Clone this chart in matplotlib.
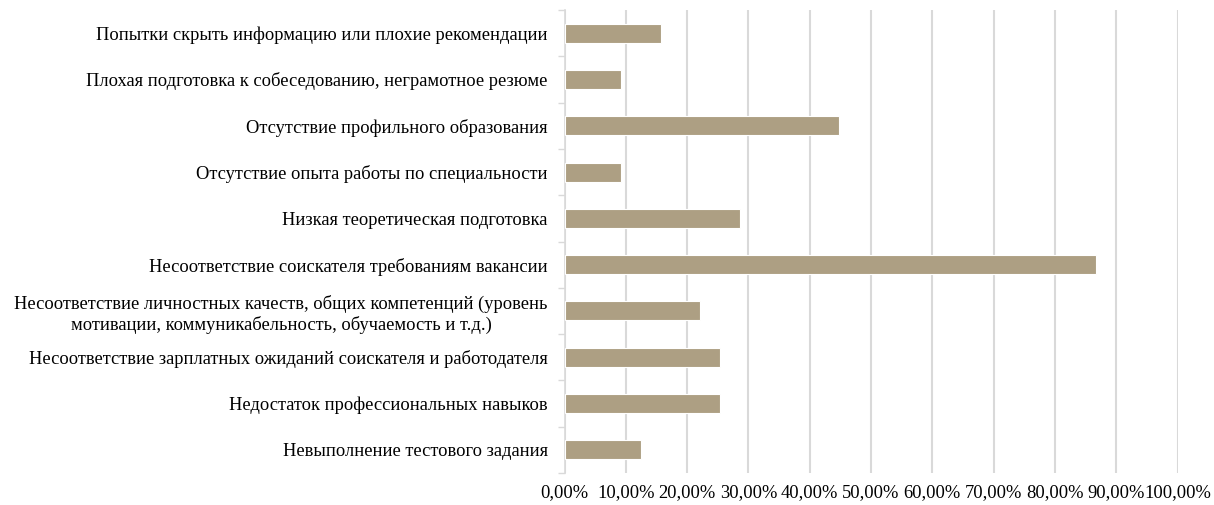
import matplotlib
matplotlib.use("Agg")
import matplotlib.pyplot as plt
from matplotlib.ticker import FuncFormatter, FixedLocator
import numpy as np

categories = [
    "Невыполнение тестового задания",
    "Недостаток профессиональных навыков",
    "Несоответствие зарплатных ожиданий соискателя и работодателя",
    "Несоответствие личностных качеств, общих компетенций (уровень\nмотивации, коммуникабельность, обучаемость и т.д.)",
    "Несоответствие соискателя требованиям вакансии",
    "Низкая теоретическая подготовка",
    "Отсутствие опыта работы по специальности",
    "Отсутствие профильного образования",
    "Плохая подготовка к собеседованию, неграмотное резюме",
    "Попытки скрыть информацию или плохие рекомендации",
]
values = [12.4, 25.3, 25.3, 22.1, 86.7, 28.6, 9.2, 44.7, 9.2, 15.7]
xticks = [0, 10, 20, 30, 40, 50, 60, 70, 80, 90, 100]

plt.rcParams['font.family'] = ['Liberation Serif', 'DejaVu Serif']

fig = plt.figure(figsize=(12.14, 5.05), dpi=100)
ax = fig.add_axes([564.5/1214, 1 - 473/505, (1177.5-564.5)/1214, (473-10)/505])

y = np.arange(len(categories))
ax.barh(y, values, height=0.41, color='#ad9f83', edgecolor='white', linewidth=0.8, zorder=3)

ax.set_xlim(0, 100)
ax.set_ylim(-0.5, len(categories) - 0.5)
ax.set_xticks(xticks)
ax.xaxis.set_major_formatter(FuncFormatter(lambda v, p: f"{v:.2f}".replace('.', ',') + "%"))
ax.grid(axis='x', color='#d9d9d9', linewidth=1.5, zorder=0)
ax.set_axisbelow(True)

ax.set_yticks(y)
ax.set_yticklabels(categories, fontsize=13.3, ha='right', multialignment='center')
ax.tick_params(axis='y', length=0, pad=12)
ax.yaxis.set_minor_locator(FixedLocator(np.arange(-0.5, len(categories), 1)))
ax.tick_params(axis='y', which='minor', length=5, color='#d9d9d9', width=1)
ax.tick_params(axis='x', length=0, labelsize=13.3, pad=8)

for s in ['top', 'right', 'bottom']:
    ax.spines[s].set_visible(False)
ax.spines['left'].set_color('#d9d9d9')
ax.spines['left'].set_linewidth(1.2)

fig.savefig("out.png", dpi=100)
